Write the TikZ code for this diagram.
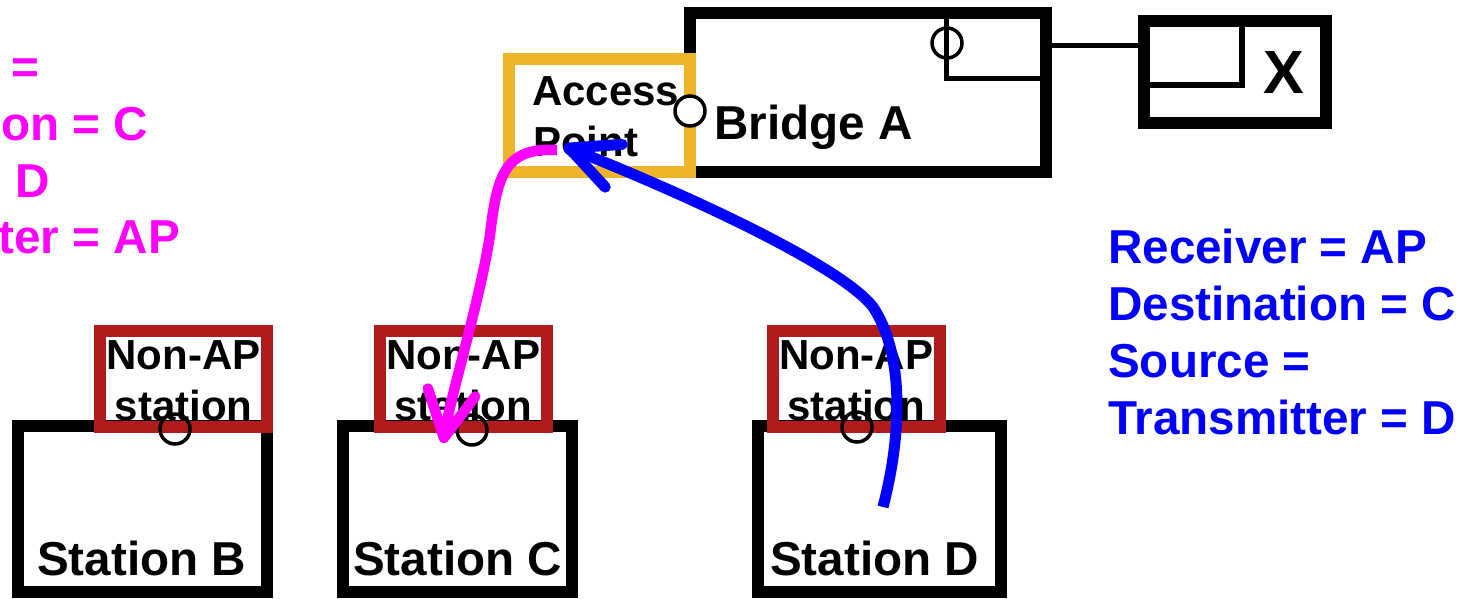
\documentclass[tikz,border=0pt]{standalone}
\usepackage{fontspec}
\setmainfont{Liberation Sans}
\usetikzlibrary{arrows.meta}
\definecolor{apor}{RGB}{239,181,42}
\definecolor{nared}{RGB}{176,28,28}
\definecolor{magc}{RGB}{255,0,255}
\definecolor{bluc}{RGB}{0,0,255}
\tikzset{
  frame/.style={draw, rectangle, line width=12pt, inner sep=0pt, outer sep=0pt},
  port/.style={draw, circle, line width=3.5pt, minimum size=30pt, inner sep=0pt},
  big/.style={font=\fontsize{47.6}{57}\selectfont\bfseries, inner sep=0pt, anchor=base west},
  small/.style={font=\fontsize{42}{51}\selectfont\bfseries, inner sep=0pt, anchor=base},
  magtxt/.style={big, text=magc},
  blutxt/.style={big, text=bluc},
  magarrow/.style={draw=magc, line width=10.5pt,
    -{Straight Barb[length=46pt,width=48pt,round]}},
  bluarrow/.style={draw=bluc, line width=11pt,
    -{Straight Barb[length=48pt,width=46pt,round]}},
  thinline/.style={line width=5pt}
}
\begin{document}
\begin{tikzpicture}[x=1pt,y=-1pt]
\useasboundingbox (0,0) rectangle (1466,598);
\clip (0,0) rectangle (1466,598);

% Bridge and its port
\node[frame, minimum width=356pt, minimum height=159pt] (bridge) at (868,92.5) {};
\draw[thinline] (946,13) -- (946,78) -- (1046,78);
\node[port] (bport) at (947,43) {};

% X box
\node[frame, minimum width=181.5pt, minimum height=102pt] (xbox) at (1234.75,72) {};
\draw[line width=6pt] (1144,85) -- (1242,85) -- (1242,21);
\coordinate (ly) at (0,45);
\draw[thinline] (bridge.east |- ly) -- (xbox.west |- ly);
\node[font=\fontsize{61}{70}\selectfont\bfseries, inner sep=0pt, anchor=base west] (xlab) at (1263,93) {X};

% Access point
\node[frame, draw=apor, minimum width=181pt, minimum height=113pt] (ap) at (599.5,115.5) {};
\node[port, fill=white] (apport) at (690,111) {};
\node[small, anchor=base west] (aptxt1) at (532,105) {Access};
\node[small, anchor=base west] (aptxt2) at (533,156) {Point};
\node[big] (brtxt) at (714,139) {Bridge A};

% Stations
\node[frame, minimum width=249pt, minimum height=166pt] (stB) at (142.5,509) {};
\node[frame, minimum width=229pt, minimum height=166pt] (stC) at (457,509) {};
\node[frame, minimum width=243pt, minimum height=166pt] (stD) at (879.5,509) {};
\node[frame, draw=nared, minimum width=167pt, minimum height=96pt] (naB) at (183.5,379) {};
\node[frame, draw=nared, minimum width=166.5pt, minimum height=96pt] (naC) at (463.25,379) {};
\node[frame, draw=nared, minimum width=166.5pt, minimum height=96pt] (naD) at (856.25,379) {};

\node[small] (naB1) at (183.5,369) {Non-AP};
\node[small] (naB2) at (183.5,420) {station};
\node[small] (naC1) at (463.25,369) {Non-AP};
\node[small] (naC2) at (463.25,420) {station};
\node[small] (naD1) at (856.25,369) {Non-AP};
\node[small] (naD2) at (856.25,420) {station};

\node[port] (pB) at (175,429) {};
\node[port] (pC) at (472,430) {};
\node[port] (pD) at (857,427) {};

\node[big] (stBt) at (37,575) {Station B};
\node[big] (stCt) at (353,575) {Station C};
\node[big] (stDt) at (770,575) {Station D};

% Magenta text (AP -> C)
\node[magtxt] (m1) at (-200,83) {Receiver =};
\node[magtxt] (m2) at (-200,140) {Destination = C};
\node[magtxt] (m3) at (-200,197) {Source = D};
\node[magtxt] (m4) at (-200,253) {Transmitter = AP};

% Blue text (D -> AP)
\node[blutxt] (b1) at (1108,263) {Receiver = AP};
\node[blutxt] (b2) at (1108,320) {Destination = C};
\node[blutxt] (b3) at (1108,377) {Source =};
\node[blutxt] (b4) at (1108,434) {Transmitter = D};

% Arrows
\coordinate (ma) at (557,150);
\coordinate (mb) at (490,235);
\coordinate (mc) at (443,443);
\draw[magarrow] (ma) .. controls (505,147) and (497,175) .. (mb)
  .. controls (480,300) and (452,390) .. (mc);

\coordinate (ba) at (883,507);
\coordinate (bb) at (873,307);
\coordinate (bc) at (564,146);
\draw[bluarrow] (ba) .. controls (903,430) and (903,352) .. (bb)
  .. controls (843,268) and (700,200) .. (bc);
\end{tikzpicture}
\end{document}
